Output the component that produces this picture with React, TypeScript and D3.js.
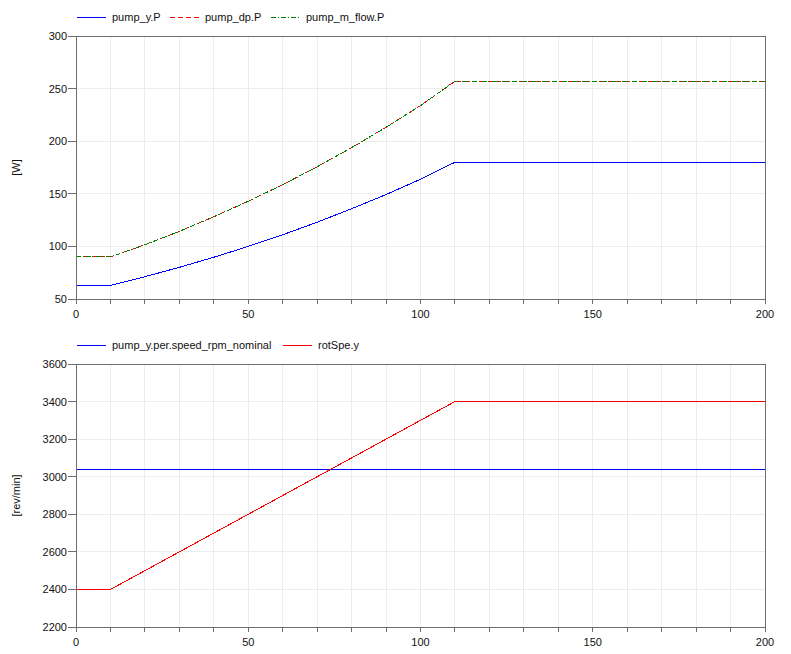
import React from "react";
import * as d3 from "d3";

const time = [0, 10, 20, 30, 40, 50, 60, 70, 80, 90, 100, 110, 200];
const pumpYP = [63, 63, 71.2, 80.1, 89.7, 100, 111.1, 123, 135.8, 149.3, 163.8, 180, 180];
const pumpDpP = [90, 90, 101.6, 114.3, 128.2, 142.9, 158.7, 175.7, 193.9, 213.2, 233.8, 257, 257];
const pumpMFlowP = [90, 90, 101.6, 114.3, 128.2, 142.9, 158.7, 175.7, 193.9, 213.2, 233.8, 257, 257];

const speedTime = [0, 10, 110, 200];
const rotSpeY = [2400, 2400, 3400, 3400];
const nominalTime = [0, 200];
const speedNominal = [3040, 3040];

const xTicks = [0, 50, 100, 150, 200];
const xMinor = d3.range(0, 201, 10);
const yTicksTop = [50, 100, 150, 200, 250, 300];
const yTicksBottom = [2200, 2400, 2600, 2800, 3000, 3200, 3400, 3600];

const W = 791;
const H = 654;
const left = 76;
const right = 765;
const font = "Liberation Sans, Arial, sans-serif";
const axisColor = "#6e6e6e";
const gridColor = "#ececec";

type Series = { t: number[]; v: number[]; color: string; dash?: string; name: string };

function Panel({
  top,
  bottom,
  yDomain,
  yTicks,
  yLabel,
  series,
  legendX,
}: {
  top: number;
  bottom: number;
  yDomain: [number, number];
  yTicks: number[];
  yLabel: string;
  series: Series[];
  legendX: number[];
}) {
  const x = d3.scaleLinear().domain([0, 200]).range([left, right]);
  const y = d3.scaleLinear().domain(yDomain).range([bottom, top]);
  const line = d3
    .line<[number, number]>()
    .x((d) => x(d[0]))
    .y((d) => y(d[1]));
  const legendY = top - 19;
  return (
    <g>
      {xMinor.map((t) => (
        <line key={"gx" + t} x1={x(t)} x2={x(t)} y1={top} y2={bottom} stroke={gridColor} shapeRendering="crispEdges" />
      ))}
      {yTicks.map((v) => (
        <line key={"gy" + v} x1={left} x2={right} y1={y(v)} y2={y(v)} stroke={gridColor} shapeRendering="crispEdges" />
      ))}
      {series.map((s, i) => (
        <path
          key={"s" + i}
          d={line(s.t.map((t, j) => [t, s.v[j]] as [number, number])) || ""}
          fill="none"
          stroke={s.color}
          strokeWidth={1}
          strokeDasharray={s.dash}
          shapeRendering="crispEdges"
        />
      ))}
      <rect x={left} y={top} width={right - left} height={bottom - top} fill="none" stroke={axisColor} shapeRendering="crispEdges" />
      {xMinor.map((t) => (
        <line key={"tx" + t} x1={x(t)} x2={x(t)} y1={bottom} y2={bottom + 5} stroke={axisColor} shapeRendering="crispEdges" />
      ))}
      {xTicks.map((t) => (
        <text key={"lx" + t} x={x(t)} y={bottom + 19} textAnchor="middle" fontFamily={font} fontSize={11} fill="#111">
          {t}
        </text>
      ))}
      {yTicks.map((v) => (
        <g key={"ty" + v}>
          <line x1={left - 8} x2={left} y1={y(v)} y2={y(v)} stroke={axisColor} shapeRendering="crispEdges" />
          <text x={left - 9} y={y(v) + 4} textAnchor="end" fontFamily={font} fontSize={11} fill="#111">
            {v}
          </text>
        </g>
      ))}
      <text
        transform={`translate(${20},${(top + bottom) / 2}) rotate(-90)`}
        textAnchor="middle"
        fontFamily={font}
        fontSize={11}
        fill="#111"
      >
        {yLabel}
      </text>
      {series.map((s, i) => (
        <g key={"lg" + i}>
          <line
            x1={legendX[i]}
            x2={legendX[i] + 29}
            y1={legendY}
            y2={legendY}
            stroke={s.color}
            strokeWidth={1}
            strokeDasharray={s.dash}
            shapeRendering="crispEdges"
          />
          <text x={legendX[i] + 35} y={legendY + 4} fontFamily={font} fontSize={11} fill="#111">
            {s.name}
          </text>
        </g>
      ))}
    </g>
  );
}

export default function App() {
  return (
    <div style={{ position: "absolute", left: 0, top: 0 }}>
      <svg width={W} height={H} style={{ display: "block", background: "#fff" }}>
        <Panel
          top={36}
          bottom={299}
          yDomain={[50, 300]}
          yTicks={yTicksTop}
          yLabel="[W]"
          legendX={[77, 170, 271]}
          series={[
            { t: time, v: pumpYP, color: "#0000ff", name: "pump_y.P" },
            { t: time, v: pumpDpP, color: "#ff0000", dash: "5,3", name: "pump_dp.P" },
            { t: time, v: pumpMFlowP, color: "#008000", dash: "5,2,1,2", name: "pump_m_flow.P" },
          ]}
        />
        <Panel
          top={364}
          bottom={627}
          yDomain={[2200, 3600]}
          yTicks={yTicksBottom}
          yLabel="[rev/min]"
          legendX={[77, 283]}
          series={[
            { t: nominalTime, v: speedNominal, color: "#0000ff", name: "pump_y.per.speed_rpm_nominal" },
            { t: speedTime, v: rotSpeY, color: "#ff0000", name: "rotSpe.y" },
          ]}
        />
      </svg>
    </div>
  );
}
